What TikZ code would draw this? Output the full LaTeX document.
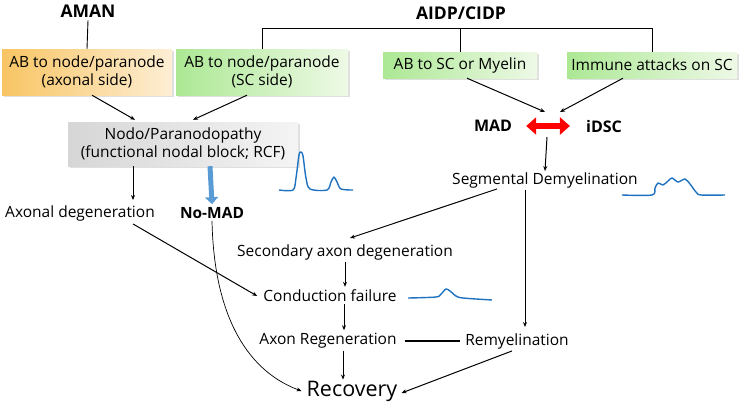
\documentclass[tikz,border=0pt]{standalone}
\usepackage{fontspec}
\setmainfont{Open Sans}
\usetikzlibrary{arrows.meta,shadows}
\definecolor{amanorange}{RGB}{248,197,100}
\definecolor{palegold}{RGB}{253,238,212}
\definecolor{scgreen}{RGB}{172,232,148}
\definecolor{palegreen}{RGB}{238,249,230}
\definecolor{nodegray}{RGB}{214,214,214}
\definecolor{palegray}{RGB}{244,244,244}
\definecolor{wave}{RGB}{30,114,192}
\definecolor{nomadblue}{RGB}{91,155,213}
\begin{document}
\begin{tikzpicture}[x=1pt,y=-1pt,
  every node/.style={font=\fontsize{15.5}{18.5}\selectfont,inner sep=2pt},
  head/.style={font=\fontsize{17.5}{20}\selectfont\bfseries},
  box/.style={align=center,inner sep=2pt,
    drop shadow={opacity=.25,shadow xshift=2pt,shadow yshift=-2pt}},
  axbox/.style={box,left color=amanorange,right color=palegold},
  scbox/.style={box,left color=scgreen,right color=palegreen},
  arr/.style={-{Stealth[length=5pt,width=4pt]},line width=1pt},
  wavy/.style={wave,line width=1.4pt,line join=round}]
\useasboundingbox (0,0) rectangle (750,405);

\node[head] (aman) at (88,11) {AMAN};
\node[head] (aidp) at (461,13) {AIDP/CIDP};
\node[axbox,minimum width=170pt,minimum height=46pt] (ab1) at (87,72) {AB to node/paranode\\(axonal side)};
\node[scbox,minimum width=172pt,minimum height=46pt] (ab2) at (262,72) {AB to node/paranode\\(SC side)};
\node[scbox,minimum width=154pt,minimum height=26pt] (ab3) at (460,65) {AB to SC or Myelin};
\node[scbox,minimum width=170pt,minimum height=26pt] (imm) at (652,65) {Immune attacks on SC};
\node[box,left color=nodegray,right color=palegray,minimum width=230pt,minimum height=44pt] (nodo) at (183,144)
  {Nodo/Paranodopathy\\(functional nodal block; RCF)};
\node[head,font=\fontsize{16}{18}\selectfont\bfseries] (mad) at (493,126) {MAD};
\node[head,font=\fontsize{16}{18}\selectfont\bfseries] (idsc) at (604,126) {iDSC};
\coordinate (dc) at (547,126);
\coordinate (top) at (262,28);
\node (seg) at (545,180) {Segmental Demyelination};
\node (axdeg) at (80,213) {Axonal degeneration};
\node[font=\fontsize{15.5}{18}\selectfont\bfseries] (nomad) at (212,213) {No-MAD};
\node (sec) at (345,252) {Secondary axon degeneration};
\node (cond) at (330,296) {Conduction failure};
\node (axreg) at (328,341) {Axon Regeneration};
\node (remy) at (517,341) {Remyelination};
\node[font=\fontsize{21.5}{24}\selectfont] (rec) at (352,391) {Recovery};

% disease headings
\draw[line width=.9pt] ([yshift=-1pt]aman.south) -- (ab1.north);
\draw[line width=.9pt] (ab2.north) |- (top) -| (imm.north);
\draw[line width=.9pt] (ab3.north) -- (ab3.north |- top);

\path[arr] ([xshift=5pt]ab1.south) edge ([xshift=-48pt,yshift=2pt]nodo.north)
  ([xshift=-15pt]ab2.south) edge ([xshift=10pt,yshift=2pt]nodo.north)
  ([xshift=7pt]ab3.south) edge ([xshift=-2pt,yshift=14pt]dc)
  ([xshift=-29pt]imm.south) edge ([xshift=13pt,yshift=14pt]dc)
  ([yshift=-11pt]dc) edge ([yshift=-1pt]seg.north)
  ([xshift=-50pt]nodo.south) edge ([xshift=53pt,yshift=3pt]axdeg.north)
  ([xshift=53pt,yshift=-1pt]axdeg.south) edge ([xshift=-4pt]cond.west)
  ([xshift=-48pt,yshift=1pt]seg.south) edge ([xshift=5pt,yshift=4pt]sec.north)
  ([xshift=-20pt]seg.south) edge ([xshift=8pt,yshift=4pt]remy.north)
  (sec.south) edge ([xshift=15pt,yshift=1pt]cond.north)
  ([xshift=14pt]cond.south) edge ([xshift=16pt,yshift=1pt]axreg.north)
  ([xshift=15pt]axreg.south) edge ([xshift=-9pt,yshift=-1pt]rec.north)
  ([xshift=-5pt]remy.south) edge ([xshift=2pt,yshift=-2pt]rec.east);
\draw[arr,line width=.7pt] (nomad.south) .. controls (214,320) and (250,372) .. ([xshift=-3pt]rec.west);
\draw[line width=1.1pt] ([xshift=6pt]axreg.east) -- ([xshift=-3pt]remy.west);

\draw[nomadblue,line width=5pt,-{Triangle[length=7pt,width=13pt]}] ([xshift=27pt]nodo.south) -- ([yshift=1pt]nomad.north);
\draw[red,line width=6pt,{Triangle[length=10pt,width=17pt]}-{Triangle[length=10pt,width=17pt]}]
  ([xshift=12pt]mad.east) -- ([xshift=-14pt]idsc.west);

% traces
\draw[wavy] plot[smooth,tension=.5] coordinates {(279,190) (293,190) (296,178) (299,155) (301,152) (303,156) (306,178) (310,189) (327,190) (331,182) (334,177) (337,182) (341,189) (353,190)};
\draw[wavy] plot[smooth,tension=.5] coordinates {(622,195) (652,195) (655,188) (658,183) (663,185) (668,181) (672,178) (678,182) (685,179) (690,184) (696,192) (701,195) (725,195)};
\draw[wavy] plot[smooth,tension=.5] coordinates {(408,298) (436,297) (441,294) (446,289) (450,291) (456,296) (463,298) (492,300)};
\end{tikzpicture}
\end{document}
